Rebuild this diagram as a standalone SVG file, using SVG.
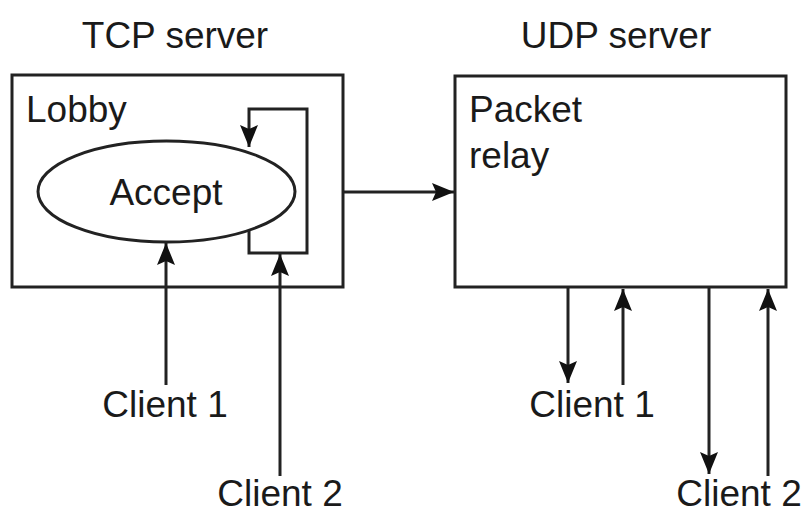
<svg xmlns="http://www.w3.org/2000/svg" width="807" height="516" viewBox="0 0 807 516">
<style>
text{font-family:"Liberation Sans",Arial,sans-serif;font-size:37px;fill:#1a1a1a}
.box{fill:#fff;stroke:#222;stroke-width:3}
.ln{fill:none;stroke:#222;stroke-width:3}
</style>
<defs>
<marker id="ah" markerUnits="userSpaceOnUse" markerWidth="24" markerHeight="18" refX="22" refY="9" orient="auto">
<path d="M0,0 L22,9 L0,18 L4,9 z" fill="#111"/>
</marker>
</defs>
<rect width="807" height="516" fill="#fff"/>
<text x="175" y="48" text-anchor="middle">TCP server</text>
<text x="616" y="48" text-anchor="middle">UDP server</text>
<g id="tcp">
<rect class="box" x="12" y="75" width="331" height="212"/>
<text x="26" y="122">Lobby</text>
</g>
<g id="accept">
<ellipse class="box" cx="166.5" cy="191.5" rx="128.5" ry="50.5"/>
<text x="166" y="205" text-anchor="middle">Accept</text>
</g>
<g id="udp">
<rect class="box" x="455" y="76" width="331" height="211"/>
<text x="469" y="122">Packet</text>
<text x="469" y="168">relay</text>
</g>
<g id="client1-tcp"><text x="165" y="417" text-anchor="middle">Client 1</text></g>
<g id="client2-tcp"><text x="280" y="506" text-anchor="middle">Client 2</text></g>
<g id="client1-udp"><text x="592" y="417" text-anchor="middle">Client 1</text></g>
<g id="client2-udp"><text x="739" y="506" text-anchor="middle">Client 2</text></g>
<g id="connectors">
<path class="ln" d="M249,230 V253 H307 V109 H249 V147" marker-end="url(#ah)"/>
<path class="ln" d="M166,385 V243" marker-end="url(#ah)"/>
<path class="ln" d="M280,476 V254" marker-end="url(#ah)"/>
<path class="ln" d="M343,192 H454" marker-end="url(#ah)"/>
<path class="ln" d="M568,288 V383" marker-end="url(#ah)"/>
<path class="ln" d="M623,385 V289" marker-end="url(#ah)"/>
<path class="ln" d="M709,288 V474" marker-end="url(#ah)"/>
<path class="ln" d="M768,476 V289" marker-end="url(#ah)"/>
</g>
</svg>
